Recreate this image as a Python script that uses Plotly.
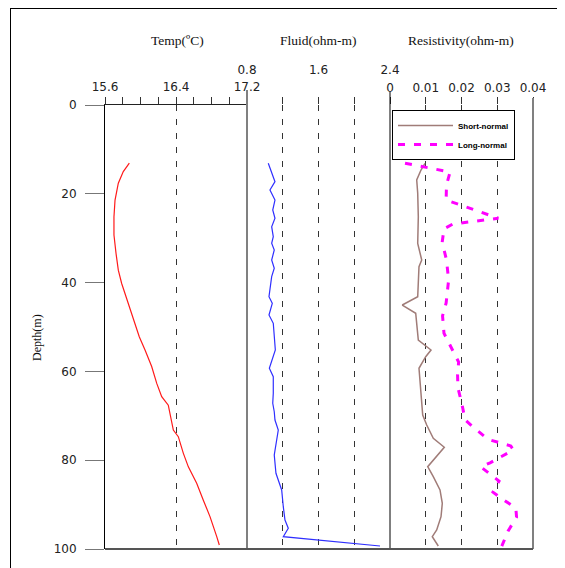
import plotly.graph_objects as go

# ---------------- data ----------------
temp_depth = [13.1, 15.0, 17.6, 21.4, 25.2, 29.3, 33.4, 37.2, 40.2, 43.2, 45.8, 49.2, 52.2, 55.2,
              58.9, 62.7, 65.7, 67.6, 70.2, 73.2, 74.7, 78.4, 81.5, 85.2, 89.0, 92.7, 97.2, 99.1]
temp_values = [15.874, 15.806, 15.750, 15.713, 15.701, 15.701, 15.724, 15.750, 15.788, 15.837,
               15.874, 15.938, 15.986, 16.051, 16.126, 16.183, 16.239, 16.313, 16.340, 16.370,
               16.426, 16.482, 16.539, 16.633, 16.708, 16.783, 16.859, 16.888]

fluid_depth = [13.13, 15.38, 17.27, 19.14, 21.40, 23.65, 25.52, 27.41, 29.66, 31.15, 32.66, 34.91,
               36.78, 38.67, 40.92, 43.18, 44.66, 47.30, 49.17, 51.06, 55.18, 59.30, 61.19, 64.93,
               67.18, 69.08, 70.95, 73.20, 75.45, 78.83, 82.95, 86.71, 90.47, 93.47, 95.34, 97.23, 99.32]
fluid_values = [1.038, 1.076, 1.113, 1.057, 1.113, 1.088, 1.113, 1.076, 1.094, 1.076, 1.105, 1.076,
                1.105, 1.076, 1.065, 1.046, 1.083, 1.046, 1.094, 1.102, 1.117, 1.050, 1.094, 1.094,
                1.088, 1.105, 1.113, 1.150, 1.132, 1.105, 1.124, 1.188, 1.206, 1.225, 1.262, 1.206, 2.288]

short_depth = [13.13, 14.64, 16.89, 19.89, 25.16, 31.15, 34.91, 36.42, 43.18, 45.05, 46.91, 49.93,
               52.93, 55.18, 56.69, 59.30, 64.19, 69.82, 72.07, 75.07, 77.09, 81.46, 83.72, 86.71,
               89.71, 92.73, 95.72, 97.23, 99.32]
short_normal = [0.00979, 0.00867, 0.00747, 0.00775, 0.00792, 0.00775, 0.00887, 0.00811, 0.00775,
                0.00344, 0.00719, 0.00747, 0.00792, 0.01147, 0.00999, 0.00811, 0.00867, 0.00915,
                0.01027, 0.01211, 0.01519, 0.01055, 0.01211, 0.01399, 0.01463, 0.01427, 0.01306,
                0.01183, 0.01351]

long_depth = [13.1, 15.1, 18.0, 21.4, 25.5, 26.8, 27.9, 30.9, 34.9, 39.4, 44.6, 47.5, 51.4, 54.5,
              57.9, 60.8, 63.7, 67.3, 70.9, 72.3, 75.3, 76.8, 77.7, 80.6, 81.5, 84.7, 87.2, 88.5,
              90.8, 92.8, 96.0, 99.5]
long_normal = [0.0042, 0.0168, 0.0158, 0.0157, 0.0303, 0.0176, 0.0151, 0.0146, 0.0158, 0.0164,
               0.0157, 0.0147, 0.0151, 0.0171, 0.0192, 0.0189, 0.0190, 0.0201, 0.0210, 0.0229,
               0.0274, 0.0338, 0.0345, 0.0280, 0.0254, 0.0305, 0.0288, 0.0310, 0.0352, 0.0354,
               0.0330, 0.0312]

depth_ticks = [0, 20, 40, 60, 80, 100]
temp_ticks = [15.6, 16.4, 17.2]
fluid_ticks = [0.8, 1.2, 1.6, 2.0, 2.4]
fluid_ticktext = ["0.8", "", "1.6", "", "2.4"]
res_ticks = [0, 0.01, 0.02, 0.03, 0.04]
res_ticktext = ["0", "0.01", "0.02", "0.03", "0.04"]

panel_titles = ["Temp(ºC)", "Fluid(ohm-m)", "Resistivity(ohm-m)"]

# ---------------- layout geometry (page pixels; body has an 8px margin) ----------------
OFF = 8
PAGE_W, PAGE_H = 565, 568
W, H = PAGE_W - OFF, PAGE_H - OFF
L, R, T, B = 105, 533, 105, 549          # plot area in page pixels
pw, ph = R - L, B - T


def px(x):
    return (x - L) / pw


def py(y):
    return (B - y) / ph


d1 = [0, px(247)]
d2 = [px(247), px(390)]
d3 = [px(390), 1]

fig = go.Figure()

fig.add_trace(go.Scatter(x=temp_values, y=temp_depth, xaxis="x", yaxis="y", mode="lines",
                         line=dict(color="#ff1a1a", width=1.2), showlegend=False))
fig.add_trace(go.Scatter(x=fluid_values, y=fluid_depth, xaxis="x2", yaxis="y", mode="lines",
                         line=dict(color="#2f2fff", width=1.2), showlegend=False))
fig.add_trace(go.Scatter(x=short_normal, y=short_depth, xaxis="x3", yaxis="y", mode="lines",
                         name="Short-normal", line=dict(color="#a07c78", width=1.5)))
fig.add_trace(go.Scatter(x=long_normal, y=long_depth, xaxis="x3", yaxis="y", mode="lines",
                         name="Long-normal", line=dict(color="#ff00ff", width=3, dash="7px,9px")))

tickfont = dict(family="DejaVu Sans", size=12, color="#222222")
grid = dict(showgrid=True, gridcolor="#333333", gridwidth=1, griddash="6px,8px")

fig.update_layout(
    width=W, height=H,
    margin=dict(l=L - OFF, r=PAGE_W - R, t=T - OFF, b=PAGE_H - B),
    paper_bgcolor="white", plot_bgcolor="white",
    xaxis=dict(domain=d1, anchor="y", side="top", range=[15.6, 17.2],
               tickvals=temp_ticks, ticks="outside", ticklen=7, tickcolor="#333",
               tickfont=tickfont, showline=True, linecolor="#222", linewidth=1,
               zeroline=False, ticklabelstandoff=1,
               minor=dict(tickmode="linear", tick0=15.6, dtick=0.2, ticks="outside",
                          ticklen=7, tickcolor="#333", showgrid=False),
               **grid),
    xaxis2=dict(domain=d2, anchor="y", side="top", range=[0.8, 2.4],
                tickvals=fluid_ticks, ticktext=fluid_ticktext, ticks="outside", ticklen=7,
                tickcolor="#333", tickfont=tickfont, showline=False, zeroline=False,
                ticklabelstandoff=18, **grid),
    xaxis3=dict(domain=d3, anchor="y", side="top", range=[0, 0.04],
                tickvals=res_ticks, ticktext=res_ticktext, ticks="outside", ticklen=7,
                tickcolor="#333", tickfont=tickfont, showline=False, zeroline=False,
                **grid),
    yaxis=dict(domain=[0, 1], anchor="x", range=[100, 0], tickvals=depth_ticks,
               ticks="outside", ticklen=19, tickcolor="#777", tickfont=tickfont,
               showgrid=False, zeroline=False, showline=True, linecolor="#000", linewidth=1,
               ticklabelstandoff=6),
    legend=dict(x=px(392), y=py(110), xanchor="left", yanchor="top",
                bgcolor="white", bordercolor="#000", borderwidth=1,
                font=dict(family="Liberation Sans", size=8, color="#000", weight="bold"),
                itemwidth=55, tracegroupgap=0),
    showlegend=True,
)

# panel borders
border_lines = [
    (247, 90, "#808080", 2),
    (390, 92, "#000000", 1),
    (533, 98, "#808080", 2),
]
for xpix, ytop, col, w in border_lines:
    fig.add_shape(type="line", xref="paper", yref="paper", x0=px(xpix), x1=px(xpix),
                  y0=0, y1=py(ytop), line=dict(color=col, width=w), layer="above")
fig.add_shape(type="line", xref="paper", yref="paper", x0=0, x1=1, y0=0, y1=0,
              line=dict(color="#555555", width=2), layer="above")

# outer frame (top and left)
fig.add_shape(type="line", xref="paper", yref="paper", x0=px(10), x1=px(566),
              y0=py(8.5), y1=py(8.5), line=dict(color="#000", width=1))
fig.add_shape(type="line", xref="paper", yref="paper", x0=px(10.5), x1=px(10.5),
              y0=py(8), y1=py(570), line=dict(color="#000", width=1))

# panel titles
title_x = [177, 318, 461]
for t, xp in zip(panel_titles, title_x):
    fig.add_annotation(text=t, xref="paper", yref="paper", x=px(xp), y=py(40),
                       xanchor="center", yanchor="middle", showarrow=False,
                       font=dict(family="Liberation Serif", size=13.5, color="#111"))

fig.add_annotation(text="Depth(m)", xref="paper", yref="paper", x=px(37), y=py(338),
                   xanchor="center", yanchor="middle", showarrow=False, textangle=-90,
                   font=dict(family="Liberation Serif", size=12, color="#111"))

fig.write_html("out.html")
